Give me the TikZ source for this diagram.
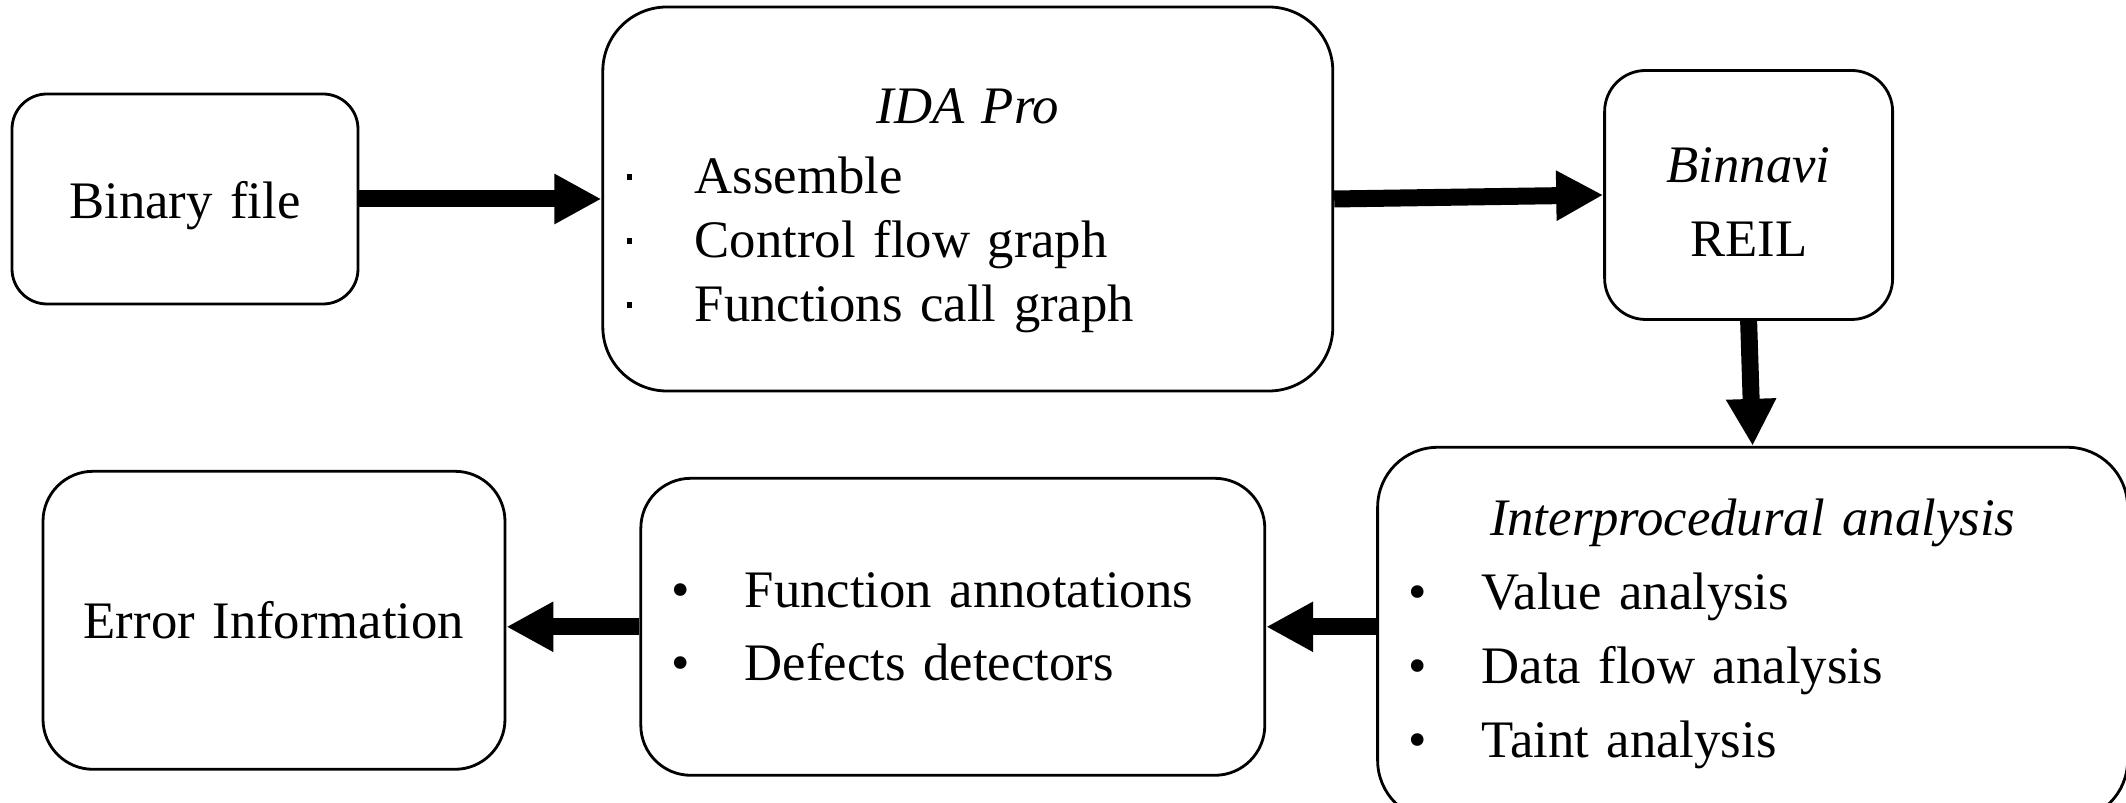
\documentclass[tikz,border=0pt]{standalone}
\usepackage{fontspec}
\setmainfont{Liberation Serif}
\usetikzlibrary{arrows.meta, positioning}
\tikzset{
  flowArrow/.style={-{Triangle[length=4.7mm, width=4.7mm]}, line width=1.7mm, black},
  stageBox/.style={rectangle, draw=black, line width=0.8pt, inner xsep=0pt,
                   inner ysep=0pt, align=left},
}
\newcommand{\sqitem}[1]{\makebox[9.2mm][l]{\hspace*{2.4mm}\raisebox{0.55ex}{\rule{0.55mm}{0.6mm}}}#1}
\newcommand{\dotitem}[1]{\makebox[10.4mm][l]{\hspace*{3.1mm}\textbullet}#1}

\begin{document}
\begin{tikzpicture}[x=0.1mm, y=-0.1mm, font=\fontsize{15pt}{21pt}\selectfont]
    \useasboundingbox (0,0) rectangle (2126,803);
    % top row
    \node[stageBox, rounded corners=3.5mm, text width=34.6mm, minimum height=21mm, align=center]
          (bin) at (185,199) {\rule{0pt}{14.2pt}Binary file};
    \node[stageBox, rounded corners=6.4mm, text width=73mm, minimum height=38.4mm,
          right=24.2mm of bin, font=\fontsize{15pt}{18.2pt}\selectfont] (ida)
          {\makebox[\linewidth]{\rule{0pt}{16.7pt}\textit{IDA Pro}}\\[0.6mm]
           \sqitem{Assemble}\\ \sqitem{Control flow graph}\\ \sqitem{Functions call graph}};
    \node[stageBox, rounded corners=4.1mm, text width=28.8mm, minimum height=24.9mm,
          align=center, right=26.9mm of ida, yshift=0.4mm] (binnavi)
          {\rule{0pt}{14pt}\textit{Binnavi}\\REIL};
    % bottom row
    \node[stageBox, rounded corners=6mm, text width=75mm, minimum height=37.3mm,
          below=12.5mm of binnavi, xshift=0.4mm] (inter)
          {\makebox[\linewidth]{\textit{Interprocedural analysis}}\\
           \dotitem{Value analysis}\\ \dotitem{Data flow analysis}\\ \dotitem{Taint analysis}};
    \node[stageBox, rounded corners=5mm, text width=62.4mm, minimum height=29.7mm,
          left=11mm of inter, yshift=0.7mm] (fun)
          {\dotitem{Function annotations}\\ \dotitem{Defects detectors}};
    \node[stageBox, rounded corners=5mm, text width=46.2mm, minimum height=29.8mm,
          align=center, left=13.3mm of fun, yshift=0.65mm] (err) {Error Information};
    % connectors
    \draw[flowArrow] (bin) -- (ida);
    \draw[flowArrow] (ida.east) -- (binnavi.west);
    \draw[flowArrow] (binnavi.south) -- (inter.north);
    \draw[flowArrow] (fun.east -| inter.west) -- (fun.east);
    \draw[flowArrow] (fun.west) -- (fun.west -| err.east);
\end{tikzpicture}
\end{document}
